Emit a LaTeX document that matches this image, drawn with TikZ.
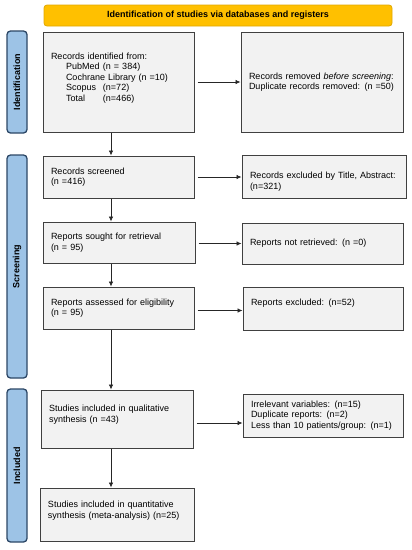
\documentclass[tikz,border=0pt]{standalone}
\usepackage{fontspec}
\setmainfont{Liberation Sans}
\usetikzlibrary{arrows.meta}
\definecolor{boxfill}{HTML}{F2F2F2}
\definecolor{boxline}{HTML}{404040}
\definecolor{sidefill}{HTML}{9DC3E6}
\definecolor{sideline}{HTML}{2C4766}
\definecolor{bannerfill}{HTML}{FFC000}
\definecolor{bannerline}{HTML}{E0A800}
\definecolor{arrline}{HTML}{262626}
\begin{document}
\begin{tikzpicture}[x=1pt,y=-1pt,
  font=\fontsize{9}{10.5}\selectfont,
  box/.style={draw=boxline, fill=boxfill, line width=1pt, inner xsep=8pt, inner ysep=2pt, align=left},
  side/.style={draw=sideline, fill=sidefill, line width=1.3pt, rounded corners=3.5pt, rotate=90,
     minimum height=20pt, inner sep=0pt, font=\fontsize{9}{10}\selectfont\bfseries},
  banner/.style={draw=bannerline, fill=bannerfill, line width=0.8pt, rounded corners=3pt,
     minimum width=348pt, minimum height=21pt, inner sep=0pt, font=\fontsize{9}{10}\selectfont\bfseries},
  arr/.style={draw=arrline, line width=0.7pt, -{Latex[length=5pt,width=4.5pt]}}]
\useasboundingbox (0,0) rectangle (412,550);

\node[banner] (ban) at (218,15.5) {Identification of studies via databases and registers};

\node[side, minimum width=102pt] (sideI) at (17,82) {Identification};
\node[side, minimum width=223pt] (sideS) at (17,266.5) {Screening};
\node[side, minimum width=153pt] (sideN) at (17,465.5) {Included};

\node[box, minimum width=151pt, minimum height=100pt, text width=135pt] (b1) at (118.5,82)
  {Records identified from:\\
   \hspace*{15pt}\makebox[37pt][l]{PubMed}(n = 384)\\
   \hspace*{15pt}Cochrane Library (n =10)\\
   \hspace*{15pt}\makebox[37pt][l]{Scopus}(n=72)\\
   \hspace*{15pt}\makebox[37pt][l]{Total}(n=466)\\[-0.6pt]\mbox{}};
\node[box, minimum width=162pt, minimum height=100pt, text width=146pt] (r1) at (322,82)
  {Records removed \textit{before screening}:\\Duplicate records removed: (n =50)};

\node[box, minimum width=151pt, minimum height=42pt, text width=135pt] (b2) at (118.5,177)
  {Records screened\\(n =416)};
\node[box, minimum width=164pt, minimum height=43pt, text width=148pt] (r2) at (324,176.5)
  {\mbox{}\\[6.1pt]Records excluded by Title, Abstract:\\(n=321)};

\node[box, minimum width=152pt, minimum height=41pt, text width=136pt] (b3) at (119,242.5)
  {Reports sought for retrieval\\(n = 95)};
\node[box, minimum width=161pt, minimum height=41pt, text width=145pt] (r3) at (322.5,243.5)
  {Reports not retrieved: (n =0)};

\node[box, minimum width=151pt, minimum height=42pt, text width=135pt] (b4) at (118.5,308)
  {Reports assessed for eligibility\\(n = 95)};
\node[box, minimum width=160pt, minimum height=43pt, text width=144pt] (r4) at (323,308.5)
  {Reports excluded: (n=52)\\[1.8pt]\mbox{}};

\node[box, minimum width=152pt, minimum height=58pt, text width=136pt] (b5) at (117,419)
  {Studies included in qualitative\\synthesis (n =43)\\[0pt]\mbox{}};
\node[box, minimum width=160pt, minimum height=43pt, text width=144pt] (r5) at (323,415.5)
  {Irrelevant variables: (n=15)\\Duplicate reports: (n=2)\\Less than 10 patients/group: (n=1)};

\node[box, minimum width=154pt, minimum height=53pt, text width=138pt] (b6) at (117,514.5)
  {Studies included in quantitative\\synthesis (meta-analysis) (n=25)\\[-1.2pt]\mbox{}};

\coordinate (vx) at (111,0);
\draw[arr] (b1.south -| vx) -- (b2.north -| vx);
\draw[arr] (b2.south -| vx) -- (b3.north -| vx);
\draw[arr] (b3.south -| vx) -- (b4.north -| vx);
\draw[arr] (b4.south -| vx) -- (b5.north -| vx);
\draw[arr] (b5.south -| vx) -- (b6.north -| vx);

\draw[arr] ([xshift=3pt]b1.east) -- (b1.east -| r1.west);
\draw[arr] ([xshift=3pt]b2.east) -- (b2.east -| r2.west);
\draw[arr] ([xshift=3pt]b3.east |- r3.west) -- (r3.west);
\draw[arr] ([xshift=3pt,yshift=-2.5pt]b4.east) -- ([yshift=-2.5pt]b4.east -| r4.west);
\draw[arr] ([xshift=3pt,yshift=-4pt]b5.east) -- ([yshift=-4pt]b5.east -| r5.west);
\end{tikzpicture}
\end{document}
